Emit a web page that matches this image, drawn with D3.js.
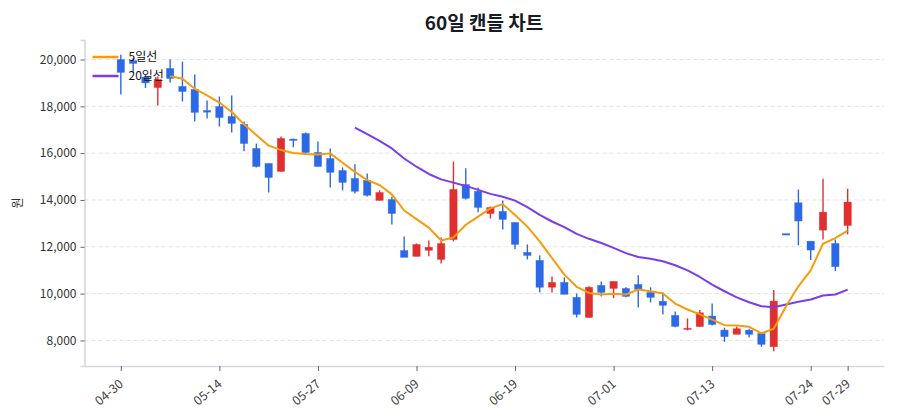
<!DOCTYPE html>
<html>
<head>
<meta charset="utf-8">
<script src="https://cdn.jsdelivr.net/npm/d3@7"></script>
<style>
  body { margin: 0; background: #fff; }
  text { font-family: 'Noto Sans CJK KR', 'Noto Sans', sans-serif; }
</style>
</head>
<body>
<div class="candle-chart"></div>
<script>
// 60 trading days
const dates = [
  '04-30', '05-02', '05-03', '05-06', '05-07', '05-08', '05-09', '05-10', '05-14', '05-16',
  '05-17', '05-20', '05-21', '05-22', '05-23', '05-24', '05-27', '05-28', '05-29', '05-30',
  '05-31', '06-03', '06-04', '06-07', '06-09', '06-10', '06-11', '06-12', '06-13', '06-14',
  '06-17', '06-18', '06-19', '06-20', '06-21', '06-24', '06-25', '06-26', '06-27', '06-28',
  '07-01', '07-02', '07-03', '07-05', '07-08', '07-09', '07-10', '07-11', '07-13', '07-15',
  '07-16', '07-17', '07-18', '07-19', '07-22', '07-23', '07-24', '07-25', '07-26', '07-29'
];
const tickIndex = [0, 8, 16, 24, 32, 40, 48, 56, 59];

const openP = [
  20000, 19950, 19250, 18800, 19620, 18850, 18720, 17820, 17990, 17570,
  17230, 16200, 15560, 15220, 16600, 16840, 16030, 15770, 15260, 14920,
  14840, 13980, 14020, 11840, 11590, 11850, 11460, 12310, 14660, 14370,
  13420, 13510, 13040, 11760, 11420, 10270, 10480, 9840, 8980, 10350,
  10220, 10220, 10390, 10050, 9670, 9070, 8470, 8590, 9040, 8440,
  8260, 8440, 8300, 7730, 12560, 13880, 12240, 12710, 12140, 12910
];
const highP = [
  20200, 20050, 19350, 19270, 20000, 19910, 19360, 18250, 18420, 18460,
  17350, 16410, 15560, 16710, 16620, 16880, 16500, 16200, 15390, 15520,
  15130, 14410, 14150, 12440, 12140, 12270, 12400, 15640, 15350, 14530,
  13720, 13980, 13040, 12100, 11630, 10730, 10690, 10000, 10310, 10520,
  10520, 10270, 10780, 10270, 10050, 9240, 8940, 9300, 9580, 8540,
  8590, 8500, 8350, 10150, 12560, 14450, 12240, 14910, 12310, 14480
];
const lowP = [
  18500, 19450, 18780, 18040, 19020, 18210, 17350, 17480, 17140, 16880,
  16080, 15390, 14320, 15200, 16250, 16000, 15430, 14530, 14410, 14280,
  14150, 13980, 12950, 11550, 11590, 11590, 11290, 12230, 14020, 13470,
  13210, 12740, 11890, 11460, 10050, 10050, 9970, 8980, 8980, 9880,
  9800, 9840, 9410, 9620, 9110, 8560, 8430, 8590, 8640, 7930,
  8260, 8120, 7730, 7540, 12500, 12060, 11430, 12310, 10960, 12530
];
const closeP = [
  19450, 19830, 19000, 19150, 19190, 18630, 17740, 17750, 17520, 17270,
  16410, 15430, 14960, 16630, 16540, 16030, 15430, 15180, 14750, 14370,
  14200, 14320, 13420, 11550, 12100, 11980, 12140, 14450, 14070, 13680,
  13680, 13170, 12100, 11630, 10270, 10480, 9970, 9110, 10270, 10050,
  10520, 9880, 10180, 9840, 9500, 8600, 8520, 9180, 8680, 8160,
  8500, 8260, 7830, 9680, 12500, 13100, 11860, 13480, 11150, 13910
];
const ma5 = [
  null, null, null, null, 19290, 19180, 18750, 18470, 18160, 17760,
  17230, 16770, 16320, 16130, 16010, 15960, 15940, 15990, 15590, 15200,
  14850, 14640, 14240, 13550, 13180, 12820, 12270, 12400, 12940, 13290,
  13640, 13820, 13360, 12860, 12230, 11520, 10810, 10290, 10030, 9960,
  9990, 9960, 10170, 10100, 10000, 9575, 9320, 9110, 8890, 8650,
  8640, 8580, 8300, 8500, 9460, 10310, 10990, 12130, 12370, 12690
];
const ma20 = [
  null, null, null, null, null, null, null, null, null, null,
  null, null, null, null, null, null, null, null, null, 17090,
  16810, 16520, 16200, 15770, 15420, 15110, 14880, 14740, 14600, 14430,
  14260, 14140, 13970, 13690, 13360, 13080, 12840, 12550, 12340, 12160,
  11950, 11730, 11560, 11490, 11380, 11210, 10990, 10710, 10380, 10100,
  9840, 9630, 9460, 9420, 9530, 9650, 9750, 9920, 9960, 10170
];
const yTicks = [8000, 10000, 12000, 14000, 16000, 18000, 20000];

const upColor = '#e02f2f';
const downColor = '#2c69e6';
const ma5Color = '#f59c0c';
const ma20Color = '#7b3cec';

const width = 900;
const height = 420;
const margin = { top: 40, right: 16, bottom: 54, left: 84.5 };
const graphWidth = width - margin.left - margin.right;
const graphHeight = height - margin.top - margin.bottom;

const candles = dates.map((d, i) => ({
  i: i,
  date: d,
  open: openP[i],
  high: highP[i],
  low: lowP[i],
  close: closeP[i]
}));

const svg = d3.select('.candle-chart')
  .append('svg')
  .attr('width', width)
  .attr('height', height);

const g = svg.append('g')
  .attr('transform', `translate(${margin.left},${margin.top})`);

// 5% padding on both axes, like the original
const n = candles.length;
const xPad = (n - 1) * 0.05;
const x = d3.scaleLinear()
  .domain([-xPad, n - 1 + xPad])
  .range([0, graphWidth]);

const yMin = d3.min(lowP);
const yMax = d3.max(highP);
const yPad = (yMax - yMin) * 0.05;
const y = d3.scaleLinear()
  .domain([yMin - yPad, yMax + yPad])
  .range([graphHeight, 0]);

// grid
g.append('g')
  .selectAll('line')
  .data(yTicks)
  .join('line')
  .attr('x1', 0)
  .attr('x2', graphWidth)
  .attr('y1', d => y(d))
  .attr('y2', d => y(d))
  .attr('stroke', '#e3e3e3')
  .attr('stroke-width', 1)
  .attr('stroke-dasharray', '4,3');

// Y axis
const yAxis = d3.axisLeft(y)
  .tickValues(yTicks)
  .tickSize(4)
  .tickPadding(4)
  .tickFormat(d3.format(','));
const yG = g.append('g').call(yAxis);
yG.select('.domain').attr('stroke', '#d5d8de').attr('stroke-width', 1.6);
yG.selectAll('.tick line').attr('stroke', '#666');
yG.selectAll('.tick text')
  .style('font-size', '12px')
  .style('fill', '#333');

// X axis
const xAxis = d3.axisBottom(x)
  .tickValues(tickIndex)
  .tickSize(5)
  .tickSizeOuter(0)
  .tickFormat(i => dates[i]);
const xG = g.append('g')
  .attr('transform', `translate(0,${graphHeight})`)
  .call(xAxis);
xG.select('.domain').attr('stroke', '#d5d8de').attr('stroke-width', 1.6);
xG.selectAll('.tick line').attr('stroke', '#666');
xG.selectAll('.tick text')
  .style('font-size', '12.5px')
  .style('fill', '#444')
  .style('text-anchor', 'end')
  .attr('x', 0)
  .attr('y', 0)
  .attr('dy', '0.35em')
  .attr('transform', 'translate(0,16) rotate(-40)');

// candles
const step = x(1) - x(0);
const bodyW = step * 0.6;
const candleG = g.append('g');

candleG.selectAll('.wick')
  .data(candles)
  .join('line')
  .attr('class', 'wick')
  .attr('x1', d => x(d.i))
  .attr('x2', d => x(d.i))
  .attr('y1', d => y(d.high))
  .attr('y2', d => y(d.low))
  .attr('stroke', d => d.close >= d.open ? upColor : downColor)
  .attr('stroke-width', 1.4);

candleG.selectAll('.body')
  .data(candles)
  .join('rect')
  .attr('class', 'body')
  .attr('x', d => x(d.i) - bodyW / 2)
  .attr('width', bodyW)
  .attr('y', d => y(Math.max(d.open, d.close)))
  .attr('height', d => Math.max(1.2, Math.abs(y(d.open) - y(d.close))))
  .attr('fill', d => d.close >= d.open ? upColor : downColor)
  .attr('stroke', d => d.close >= d.open ? upColor : downColor)
  .attr('stroke-opacity', 0.6)
  .attr('stroke-width', 0.6);

// moving averages
const maLine = d3.line()
  .defined(d => d.v != null)
  .x(d => x(d.i))
  .y(d => y(d.v));

g.append('path')
  .datum(ma20.map((v, i) => ({ i, v })))
  .attr('fill', 'none')
  .attr('stroke', ma20Color)
  .attr('stroke-width', 2)
  .attr('stroke-linejoin', 'round')
  .attr('d', maLine);

g.append('path')
  .datum(ma5.map((v, i) => ({ i, v })))
  .attr('fill', 'none')
  .attr('stroke', ma5Color)
  .attr('stroke-width', 2)
  .attr('stroke-linejoin', 'round')
  .attr('d', maLine);

// legend
const legend = g.append('g').attr('transform', 'translate(8,17)');
const legendItems = [
  { label: '5일선', color: ma5Color },
  { label: '20일선', color: ma20Color }
];
legendItems.forEach((item, k) => {
  const row = legend.append('g').attr('transform', `translate(0,${k * 19})`);
  row.append('line')
    .attr('x1', 0).attr('x2', 26)
    .attr('y1', 0).attr('y2', 0)
    .attr('stroke', item.color)
    .attr('stroke-width', 2.5);
  row.append('text')
    .attr('x', 36)
    .attr('y', 0)
    .attr('dy', '0.35em')
    .style('font-size', '12px')
    .style('fill', '#111')
    .text(item.label);
});

// title and y label
svg.append('text')
  .attr('x', 484)
  .attr('y', 30)
  .style('text-anchor', 'middle')
  .style('font-size', '19px')
  .style('font-weight', 'bold')
  .style('fill', '#161b26')
  .text('60일 캔들 차트');

svg.append('text')
  .attr('transform', `translate(22,${margin.top + graphHeight / 2}) rotate(-90)`)
  .style('text-anchor', 'middle')
  .style('font-size', '12px')
  .style('fill', '#333')
  .text('원');
</script>
</body>
</html>
